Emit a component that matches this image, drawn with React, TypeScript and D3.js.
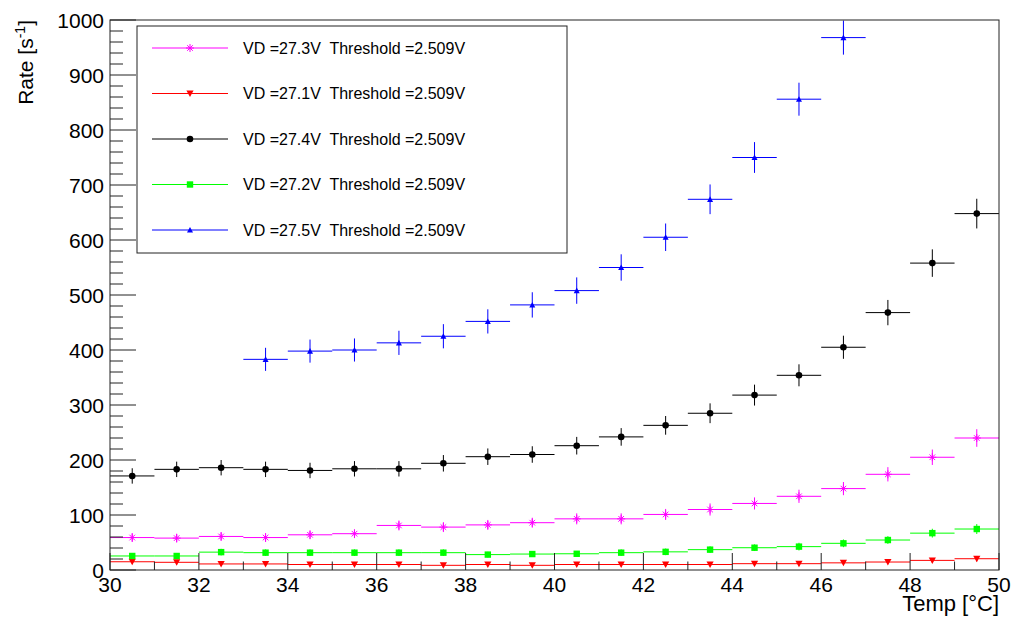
import React from "react";
import * as d3 from "d3";

const binCenters = [30.5, 31.5, 32.5, 33.5, 34.5, 35.5, 36.5, 37.5, 38.5, 39.5, 40.5, 41.5, 42.5, 43.5, 44.5, 45.5, 46.5, 47.5, 48.5, 49.5];

const rate273 = [59, 58, 61, 59, 64, 66, 81, 78, 82, 86, 93, 93, 101, 110, 121, 134, 148, 174, 205, 240];
const err273 = [8, 8, 8, 8, 8, 8, 9, 9, 9, 9, 10, 10, 10, 11, 11, 12, 12, 13, 14, 16];

const rate271 = [15, 14, 11, 11, 10, 10, 10, 8.5, 10, 8.5, 10, 10, 10, 10, 11.5, 11.5, 13, 14.5, 17.5, 20.5];
const err271 = [4, 4, 3, 3, 3, 3, 3, 3, 3, 3, 3, 3, 3, 3, 3, 3, 4, 4, 4, 5];

const rate274 = [171, 183, 186, 183, 181, 184, 184, 194, 206, 210, 226, 242, 263, 285, 318, 354, 405, 468, 558, 648];
const err274 = [14, 14, 14, 14, 14, 14, 14, 15, 15, 15, 16, 16, 17, 18, 19, 20, 21, 23, 25, 27];

const rate272 = [25.5, 25.5, 32.5, 31.5, 31.5, 31.5, 31.5, 31.5, 28, 29, 29.5, 31.5, 33, 37, 40.5, 42.5, 48.5, 54.5, 67, 74.5];
const err272 = [5, 5, 6, 6, 6, 6, 6, 6, 5, 5, 5, 6, 6, 6, 6, 7, 7, 7, 8, 9];

const rate275 = [null, null, null, 383, 398, 400, 413, 425, 452, 482, 508, 550, 605, 674, 750, 856, 968, null, null, null];
const err275 = [0, 0, 0, 21, 21, 21, 22, 22, 22, 23, 24, 24, 25, 27, 28, 30, 31, 0, 0, 0];

const yTicks = [0, 100, 200, 300, 400, 500, 600, 700, 800, 900, 1000];
const xTicks = [30, 32, 34, 36, 38, 40, 42, 44, 46, 48, 50];

const seriesNames = ["27.3", "27.1", "27.4", "27.2", "27.5"];

type Series = { name: string; color: string; marker: string; values: (number | null)[]; errors: number[] };

const series: Series[] = [
  { name: seriesNames[0], color: "#ff00ff", marker: "star", values: rate273, errors: err273 },
  { name: seriesNames[1], color: "#ff0000", marker: "tridown", values: rate271, errors: err271 },
  { name: seriesNames[2], color: "#000000", marker: "circle", values: rate274, errors: err274 },
  { name: seriesNames[3], color: "#00ff00", marker: "square", values: rate272, errors: err272 },
  { name: seriesNames[4], color: "#0000ff", marker: "triup", values: rate275, errors: err275 },
];

const W = 1015;
const H = 617;
const left = 110;
const right = 999;
const top = 20;
const bottom = 570;

const FONT = "'Liberation Sans', Arial, Helvetica, sans-serif";

function Marker({ type, x, y, color }: { type: string; x: number; y: number; color: string }) {
  if (type === "circle") return <circle cx={x} cy={y} r={3.3} fill={color} />;
  if (type === "square") return <rect x={x - 3.2} y={y - 3.2} width={6.4} height={6.4} fill={color} />;
  if (type === "tridown")
    return <path d={`M${x - 3.6},${y - 3} L${x + 3.6},${y - 3} L${x},${y + 3.5} Z`} fill={color} />;
  if (type === "triup")
    return <path d={`M${x - 3},${y + 2.6} L${x + 3},${y + 2.6} L${x},${y - 3} Z`} fill={color} />;
  const r = 4;
  return (
    <g stroke={color} strokeWidth={1}>
      <line x1={x - r} y1={y} x2={x + r} y2={y} />
      <line x1={x} y1={y - r} x2={x} y2={y + r} />
      <line x1={x - r * 0.7} y1={y - r * 0.7} x2={x + r * 0.7} y2={y + r * 0.7} />
      <line x1={x - r * 0.7} y1={y + r * 0.7} x2={x + r * 0.7} y2={y - r * 0.7} />
    </g>
  );
}

export default function App() {
  const x = d3.scaleLinear().domain([30, 50]).range([left, right]);
  const y = d3.scaleLinear().domain([0, 1000]).range([bottom, top]);

  const yMinor = d3.range(0, 1001, 20).filter((v) => v % 100 !== 0);
  const xMinor = d3.range(31, 50, 2);

  const legendX = 137;
  const legendY = 26;
  const legendW = 430;
  const legendH = 227;
  const rowY = [48, 93.5, 139, 184.5, 230];

  return (
    <svg width={W} height={H} style={{ position: "absolute", left: 0, top: 0, background: "#fff" }} fontFamily={FONT}>
      <rect x={0} y={0} width={W} height={H} fill="#fff" />
      {series.map((s) => (
        <g key={s.name}>
          {binCenters.map((c, i) => {
            const v = s.values[i];
            if (v === null) return null;
            const e = s.errors[i];
            return (
              <g key={i}>
                <line x1={x(c - 0.5)} x2={x(c + 0.5)} y1={y(v)} y2={y(v)} stroke={s.color} strokeWidth={1} />
                <line x1={x(c)} x2={x(c)} y1={Math.max(y(v + e), top)} y2={Math.min(y(v - e), bottom)} stroke={s.color} strokeWidth={1} />
                <Marker type={s.marker} x={x(c)} y={y(v)} color={s.color} />
              </g>
            );
          })}
        </g>
      ))}
      <rect x={left} y={top} width={right - left} height={bottom - top} fill="none" stroke="#222" strokeWidth={1} />
      {yTicks.map((t) => (
        <g key={"yt" + t}>
          <line x1={left} x2={left + 26} y1={y(t)} y2={y(t)} stroke="#222" />
          <text x={left - 6} y={y(t)} dy="0.36em" textAnchor="end" fontSize={21} fill="#000">
            {t}
          </text>
        </g>
      ))}
      {yMinor.map((t) => (
        <line key={"ym" + t} x1={left} x2={left + 13} y1={y(t)} y2={y(t)} stroke="#222" />
      ))}
      {xTicks.map((t) => (
        <g key={"xt" + t}>
          <line x1={x(t)} x2={x(t)} y1={bottom} y2={bottom - 17} stroke="#222" />
          <text x={x(t)} y={bottom + 22} textAnchor="middle" fontSize={21} fill="#000">
            {t}
          </text>
        </g>
      ))}
      {xMinor.map((t) => (
        <line key={"xm" + t} x1={x(t)} x2={x(t)} y1={bottom} y2={bottom - 8.5} stroke="#222" />
      ))}
      <text x={right} y={611} textAnchor="end" fontSize={22} fill="#000">
        Temp [°C]
      </text>
      <text transform={`translate(33,${top}) rotate(-90)`} textAnchor="end" fontSize={21} fill="#000">
        Rate [s<tspan baselineShift="super" fontSize={14}>-1</tspan>]
      </text>
      <rect x={legendX} y={legendY} width={legendW} height={legendH} fill="#fff" stroke="#222" strokeWidth={1} />
      {series.map((s, i) => (
        <g key={"lg" + s.name}>
          <line x1={152} x2={228} y1={rowY[i]} y2={rowY[i]} stroke={s.color} strokeWidth={1} />
          <Marker type={s.marker} x={190} y={rowY[i]} color={s.color} />
          <text x={243} y={rowY[i]} dy="0.36em" fontSize={16} fill="#000" style={{ whiteSpace: "pre" }}>
            {`VD =${s.name}V  Threshold =2.509V`}
          </text>
        </g>
      ))}
    </svg>
  );
}
